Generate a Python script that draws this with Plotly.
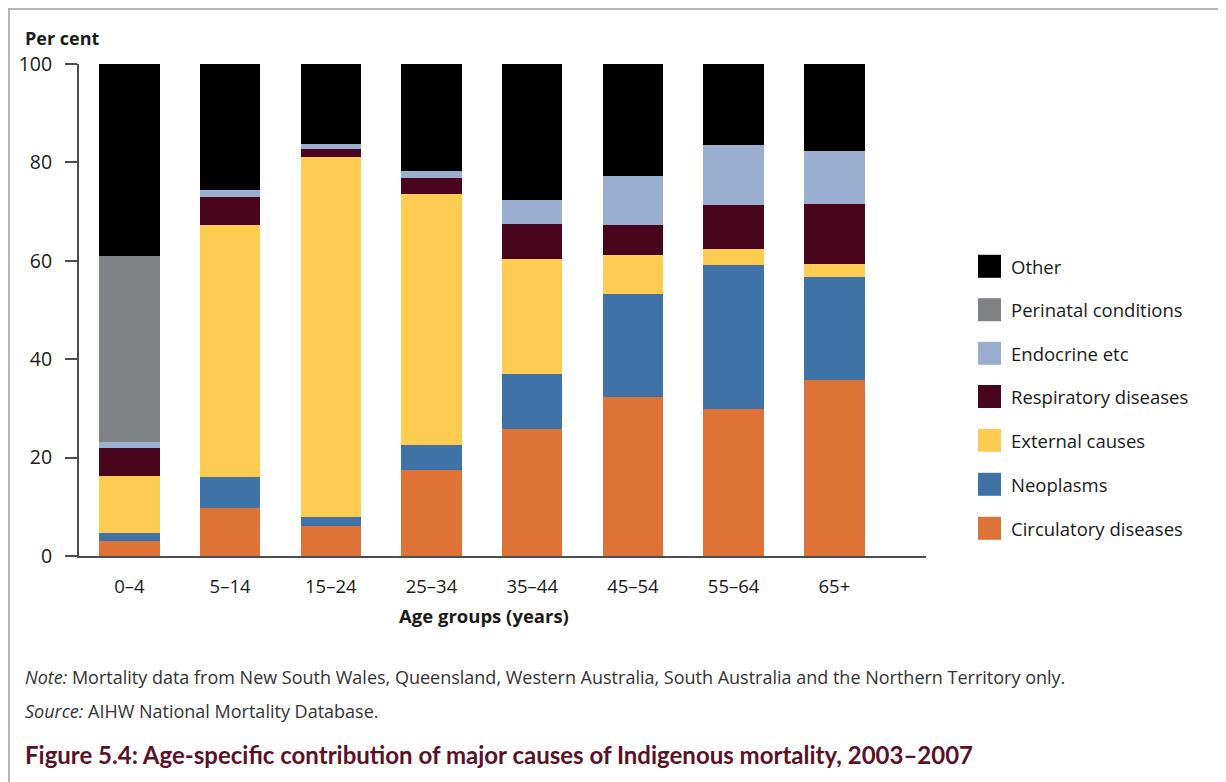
import plotly.graph_objects as go

# ---------------- data ----------------
age_groups = ["0–4", "5–14", "15–24", "25–34", "35–44", "45–54", "55–64", "65+"]

series_names = [
    "Circulatory diseases",
    "Neoplasms",
    "External causes",
    "Respiratory diseases",
    "Endocrine etc",
    "Perinatal conditions",
    "Other",
]

circulatory = [3.0, 9.7, 6.0, 17.4, 25.8, 32.3, 29.8, 35.7]
neoplasms = [1.6, 6.3, 1.9, 5.1, 11.2, 20.9, 29.3, 21.0]
external = [11.6, 51.2, 73.2, 51.0, 23.3, 7.9, 3.2, 2.6]
respiratory = [5.7, 5.8, 1.6, 3.3, 7.1, 6.1, 9.0, 12.2]
endocrine = [1.2, 1.4, 1.0, 1.4, 4.9, 10.0, 12.2, 10.8]
perinatal = [37.9, 0, 0, 0, 0, 0, 0, 0]
other = [39.0, 25.6, 16.3, 21.8, 27.7, 22.8, 16.5, 17.7]

series_values = [circulatory, neoplasms, external, respiratory, endocrine, perinatal, other]

y_ticks = [0, 20, 40, 60, 80, 100]

colors = ["#df7237", "#3f72a7", "#ffcc52", "#48051b", "#9aafd0", "#818285", "#000000"]

# ---------------- layout geometry ----------------
# The page body has an 8px margin, so the figure starts at page (8, 8).
OFF = 8
W, H = 1226 - OFF, 782 - OFF
# plot area in page pixels
PL, PR, PT, PB = 79, 926, 64, 556
L, R, T, B = PL - OFF, PR - OFF, PT - OFF, PB - OFF


def px(x):  # page x -> paper
    return (x - PL) / (PR - PL)


def py(y):  # page y -> paper
    return (PB - y) / (PB - PT)


FONT = "Open Sans"
TEXT = "#1a1a1a"
AXIS = "#4d4d4d"

fig = go.Figure()
for name, vals, col in zip(series_names, series_values, colors):
    fig.add_trace(go.Bar(
        x=age_groups, y=vals, name=name,
        marker=dict(color=col, line=dict(width=0)),
        width=0.6, showlegend=False,
    ))

fig.update_layout(
    width=W, height=H,
    margin=dict(l=L, r=W - R, t=T, b=H - B, pad=0),
    barmode="stack",
    paper_bgcolor="white", plot_bgcolor="white",
    font=dict(family=FONT, size=18, color=TEXT),
    xaxis=dict(
        type="category", range=[-0.5, 7.91],
        showline=True, linecolor=AXIS, linewidth=2,
        ticks="", showgrid=False, zeroline=False,
        tickfont=dict(size=18.5, color=TEXT),
        ticklabelstandoff=13,
    ),
    yaxis=dict(
        range=[0, 100], tickvals=y_ticks,
        showline=True, linecolor=AXIS, linewidth=2,
        ticks="outside", ticklen=12, tickwidth=2, tickcolor=AXIS,
        showgrid=False, zeroline=False,
        tickfont=dict(size=19.5, color=TEXT),
        ticklabelstandoff=9,
    ),
)

annotations = [
    dict(x=px(23), y=py(38), text="<b>Per cent</b>", xanchor="left", yanchor="middle",
         font=dict(size=18, color=TEXT)),
    dict(x=px(484), y=py(615), text="<b>Age groups (years)</b>", xanchor="center", yanchor="middle",
         font=dict(size=18.5, color=TEXT)),
    dict(x=px(23), y=py(677),
         text="<i>Note:</i> Mortality data from New South Wales, Queensland, Western Australia, South Australia and the Northern Territory only.",
         xanchor="left", yanchor="middle", font=dict(size=18, color="#333333")),
    dict(x=px(23), y=py(711), text="<i>Source:</i> AIHW National Mortality Database.",
         xanchor="left", yanchor="middle", font=dict(size=18, color="#333333")),
    dict(x=px(23), y=py(754),
         text="<b>Figure 5.4: Age-specific contribution of major causes of Indigenous mortality, 2003–2007</b>",
         xanchor="left", yanchor="middle", font=dict(family="Lato", size=24, color="#5b1228")),
]

shapes = [
    dict(type="line", xref="paper", yref="paper", x0=px(8), x1=px(1240), y0=py(9), y1=py(9),
         line=dict(color="#b5b5b5", width=2)),
    dict(type="line", xref="paper", yref="paper", x0=px(9), x1=px(9), y0=py(9), y1=py(800),
         line=dict(color="#b5b5b5", width=2)),
]

# legend (top to bottom: Other ... Circulatory)
legend_centers = [266.3, 309.7, 353.3, 396.5, 440.3, 484.3, 528.3]
for i, (name, col) in enumerate(zip(series_names[::-1], colors[::-1])):
    cy = legend_centers[i]
    shapes.append(dict(type="rect", xref="paper", yref="paper",
                       x0=px(978), x1=px(1001), y0=py(cy + 11.5), y1=py(cy - 11.5),
                       fillcolor=col, line=dict(width=0)))
    annotations.append(dict(x=px(1009), y=py(cy), text=name, xanchor="left", yanchor="middle",
                            font=dict(size=18.5, color=TEXT)))

for a in annotations:
    a.update(xref="paper", yref="paper", showarrow=False)

fig.update_layout(annotations=annotations, shapes=shapes)

fig.write_html("out.html")
